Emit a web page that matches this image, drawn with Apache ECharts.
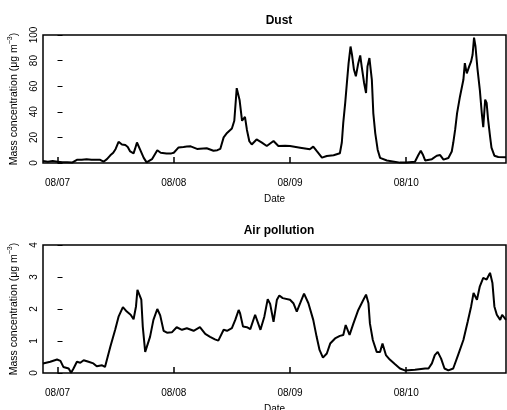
<!DOCTYPE html>
<html>
<head>
<meta charset="UTF-8">
<script src="https://cdn.jsdelivr.net/npm/echarts@6/dist/echarts.min.js"></script>
</head>
<body style="margin:0;background:#fff;">
<div id="main" style="width:507px;height:410px;"></div>
<script type="text/javascript">

// hours since 08/07 00:00
var dayTicks = [0, 24, 48, 72];
var dayLabels = ['08/07', '08/08', '08/09', '08/10'];

var dustHours = [-3,-2,-1,0,1,2,3,3.3,4,5,6,7,8,8.8,9.5,10.2,10.9,11.5,12,12.6,13,13.3,14,14.5,15,15.7,16,16.4,17.1,17.8,18.4,19.5,20.6,21.3,22.5,23.5,24,25,26,26.7,27.5,28.8,29.4,30.8,32.2,33,33.6,34.3,35,36,36.5,37,37.6,38.1,38.7,39.1,39.6,40.1,41.1,42.2,43.2,44.6,45.6,47,48,50.1,52.1,52.8,53.5,54.6,55.6,57,58.3,58.7,59,59.4,59.8,60.1,60.5,60.8,61.2,61.6,62.1,62.5,62.8,63.3,63.7,64,64.4,64.9,65.2,65.6,66.1,66.6,68,70.7,72,73.8,74.5,75,75.5,75.9,77.3,78.3,79,79.7,80.7,81.4,81.7,82.1,82.5,83.1,83.8,84.1,84.5,85,85.4,85.7,86,86.3,86.7,87.2,87.6,87.9,88.3,88.6,88.9,89.3,89.6,90.2,91,92.6];
var dustValues = [1.5,1,1.5,1,0.5,0.5,0.3,0.5,2.5,2.5,3,2.5,2.5,2.5,1,3,6,8,11,16.6,16,14.5,14,12.5,9,7.5,11,16,10,4,0.5,3,10,8,7.5,7.5,8,12.2,12.5,12.8,13,11,11.2,11.5,9.6,10,11,20,23.5,27,33,58.5,49,33,36,26,17,14.5,18.4,15.9,13.3,17.2,13.3,13.5,13.3,12,10.7,12.8,9.4,4.2,5.5,6,7.6,16,31.5,47,65,78,91,84.6,73,67.7,78,84,75.5,62.5,54.7,75.5,82,65,39,23.4,10.4,4,2,0.3,0.3,1,6.2,9.6,6,2,3,5.7,6.2,2.6,3.9,9,15.6,26,39,52,65,78,70,75.5,79.4,84.6,98,91,74,57,39,28,49.5,47,34,21,12,5.7,4.7,4.4];

var airHours = [-3,-1.5,-0.1,0.6,1.2,2.3,2.8,3.3,4,4.7,5.4,6.4,7.4,8.1,9.2,9.8,10.9,11.9,12.6,13.5,14.3,15.1,15.7,16.2,16.5,16.9,17.3,17.6,18.1,18.4,19.1,19.8,20.6,21.2,21.9,22.6,23.6,24.6,25.7,26.7,28.1,29.4,30.5,31.5,32.5,33.2,34.3,35,36,36.7,37.4,37.7,38.3,39.1,39.8,40.8,41.9,42.7,43.4,43.9,44.6,45.3,45.8,46.5,48,48.7,49.4,50.1,50.9,51.8,52.8,53.5,54.1,54.8,55.6,56.3,57.3,58.3,59,59.5,60.3,61.1,62.1,63,63.7,64.2,64.5,65.1,65.9,66.6,67.1,67.8,68.6,69.7,70.7,71.7,73.8,75.9,76.6,77.3,77.9,78.5,79.2,79.9,80.7,81.7,82.7,83.8,84.7,85.4,85.9,86.2,86.6,87.2,87.9,88.6,89.3,89.8,90.2,90.7,91.4,91.8,92.6];
var airValues = [0.3,0.35,0.42,0.38,0.19,0.14,0.01,0.14,0.35,0.32,0.4,0.35,0.3,0.21,0.24,0.19,0.82,1.35,1.76,2.06,1.92,1.82,1.68,2.08,2.6,2.66,2.29,1.45,0.66,0.72,1.13,1.66,2.0,1.8,1.32,1.26,1.27,1.43,1.35,1.4,1.32,1.43,1.22,1.13,1.05,1.01,1.35,1.32,1.4,1.66,1.97,1.86,1.45,1.43,1.37,1.82,1.35,1.76,2.31,2.16,1.6,2.29,2.42,2.34,2.29,2.18,1.92,2.18,2.48,2.18,1.66,1.13,0.72,0.48,0.61,0.92,1.08,1.16,1.19,1.5,1.19,1.55,1.97,2.24,2.45,2.18,1.55,1.03,0.66,0.66,0.92,0.56,0.42,0.27,0.14,0.08,0.1,0.14,0.14,0.3,0.56,0.66,0.45,0.14,0.08,0.14,0.56,1.03,1.61,2.08,2.5,2.45,2.29,2.71,2.97,2.92,3.13,2.81,2.08,1.82,1.66,1.82,1.66];

function pairs(xs, ys) {
    var out = [];
    for (var i = 0; i < xs.length; i++) out.push([xs[i], ys[i]]);
    return out;
}

var font = '"Liberation Sans", Arial, sans-serif';
var chart = echarts.init(document.getElementById('main'));

function xAxisCfg(idx) {
    return {
        type: 'value', gridIndex: idx, min: -3, max: 92.6,
        name: 'Date', nameLocation: 'middle', nameGap: 31,
        nameTextStyle: { fontFamily: font, fontSize: 10, color: '#000' },
        splitLine: { show: false },
        axisLine: { show: false },
        axisTick: { show: true, inside: true, length: 6, customValues: dayTicks,
                    lineStyle: { color: '#000', width: 1.5 } },
        axisLabel: { customValues: dayTicks, margin: 15, fontFamily: font, fontSize: 10, color: '#000',
                     formatter: function (v) { return dayLabels[dayTicks.indexOf(v)]; } }
    };
}

function yAxisCfg(idx, max, interval) {
    return {
        type: 'value', gridIndex: idx, min: 0, max: max, interval: interval,
        name: 'Mass concentration (μg m{sup|−3})', nameLocation: 'middle', nameGap: 22,
        nameTextStyle: { fontFamily: font, fontSize: 10.5, color: '#000',
                         rich: { sup: { fontFamily: font, fontSize: 7, color: '#000', padding: [0, 0, 7, 0] } } },
        splitLine: { show: false },
        axisLine: { show: false },
        axisTick: { show: true, inside: true, length: 5, lineStyle: { color: '#000', width: 1 } },
        axisLabel: { rotate: 90, margin: 4, fontFamily: font, fontSize: 10, color: '#000' }
    };
}

var option = {
    animation: false,
    backgroundColor: '#fff',
    title: [
        { text: 'Dust', left: 274, top: 10, textAlign: 'center',
          textStyle: { fontFamily: font, fontSize: 12, fontWeight: 'bold', color: '#000' } },
        { text: 'Air pollution', left: 274, top: 220, textAlign: 'center',
          textStyle: { fontFamily: font, fontSize: 12, fontWeight: 'bold', color: '#000' } }
    ],
    grid: [
        { left: 43, right: 1, top: 35, height: 128, show: true, borderColor: '#000', borderWidth: 1.5,
          outerBoundsMode: 'none' },
        { left: 43, right: 1, top: 245, height: 128, show: true, borderColor: '#000', borderWidth: 1.5,
          outerBoundsMode: 'none' }
    ],
    xAxis: [xAxisCfg(0), xAxisCfg(1)],
    yAxis: [yAxisCfg(0, 100, 20), yAxisCfg(1, 4, 1)],
    series: [
        { name: 'Dust', type: 'line', xAxisIndex: 0, yAxisIndex: 0, data: pairs(dustHours, dustValues),
          showSymbol: false, lineStyle: { color: '#000', width: 2 } },
        { name: 'Air pollution', type: 'line', xAxisIndex: 1, yAxisIndex: 1, data: pairs(airHours, airValues),
          showSymbol: false, lineStyle: { color: '#000', width: 2 } }
    ]
};

chart.setOption(option);

</script>
</body>
</html>
